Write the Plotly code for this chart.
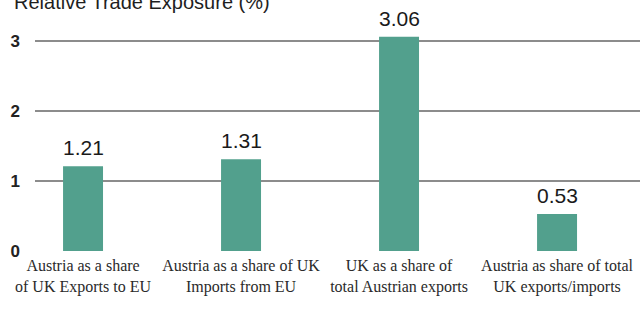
import plotly.graph_objects as go

# Relative trade exposure between Austria and the UK
categories = [
    "Austria as a share<br>of UK Exports to EU",
    "Austria as a share of UK<br>Imports from EU",
    "UK as a share of<br>total Austrian exports",
    "Austria as share of total<br>UK exports/imports",
]
values = [1.21, 1.31, 3.06, 0.53]
y_ticks = [0, 1, 2, 3]

positions = list(range(len(categories)))

fig = go.Figure()
fig.add_trace(
    go.Bar(
        x=positions,
        y=values,
        width=0.253,
        marker=dict(color="#52a08d", line=dict(width=0)),
        hoverinfo="skip",
    )
)

# value labels above each bar
for xi, v in zip(positions, values):
    fig.add_annotation(
        x=xi, y=v, text=f"{v:.2f}", showarrow=False,
        yanchor="bottom", yshift=5,
        font=dict(family="Liberation Sans, Arial, sans-serif", size=21, color="#1a1a1a"),
    )

# axis title sitting above the plot, partly cut by the page top
fig.add_annotation(
    xref="paper", yref="paper", x=-0.038, y=1.078,
    xanchor="left", yanchor="middle", showarrow=False,
    text="Relative Trade Exposure (%)",
    font=dict(family="Liberation Sans, Arial, sans-serif", size=20, color="#1f1f1f"),
)

fig.update_layout(
    width=642, height=320,
    margin=dict(l=35, r=2, t=20, b=69),
    paper_bgcolor="white", plot_bgcolor="white",
    showlegend=False,
    xaxis=dict(
        range=[-0.304, 3.525],
        tickmode="array", tickvals=positions, ticktext=categories,
        showgrid=False, zeroline=False, showline=False,
        ticklabelstandoff=3,
        tickfont=dict(family="Liberation Serif, Times New Roman, serif", size=16, color="#2a2a2a"),
        fixedrange=True,
    ),
    yaxis=dict(
        range=[0, 3.3],
        tickmode="array", tickvals=y_ticks,
        showgrid=True, gridcolor="#8c8c8c", gridwidth=1.6,
        zeroline=False, showline=False,
        ticklabelstandoff=14,
        tickfont=dict(family="Liberation Sans, Arial, sans-serif", size=17,
                      color="#222222", weight="bold"),
        fixedrange=True,
    ),
)

fig.write_html("out.html")
